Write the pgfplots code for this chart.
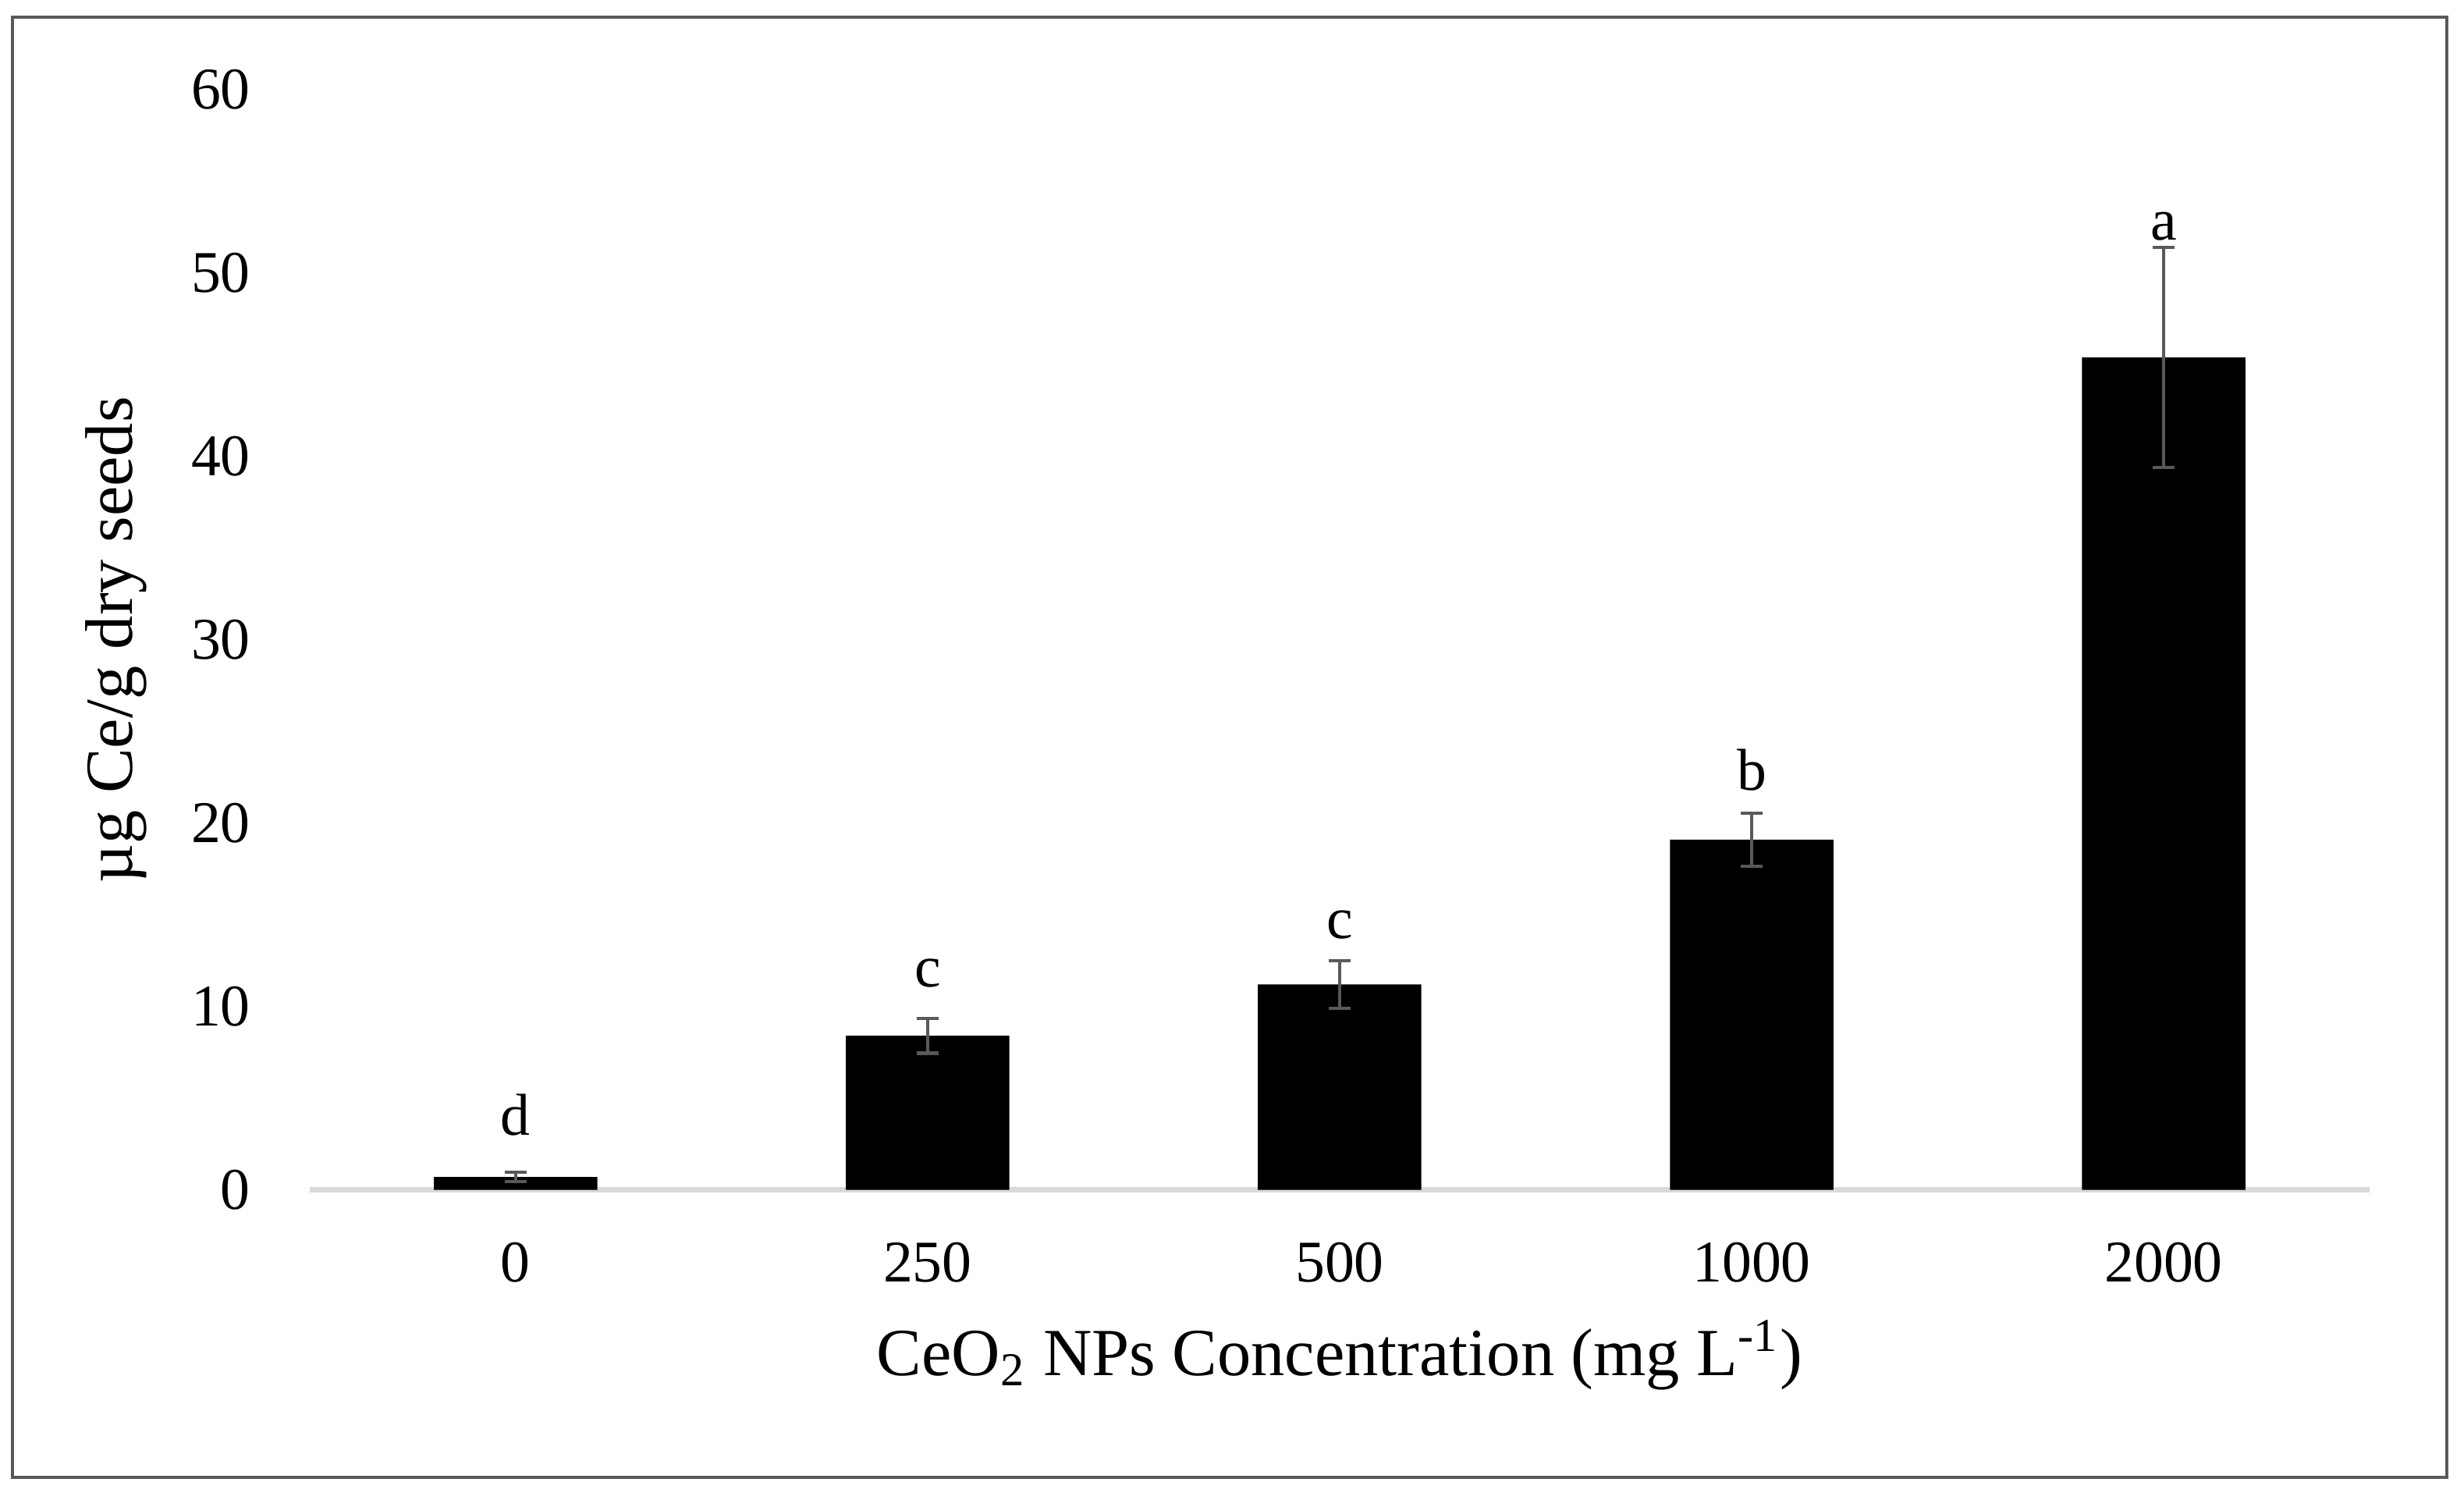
\documentclass[border=0pt]{standalone}
\usepackage{fontspec}
\setmainfont{Liberation Serif}
\usepackage{pgfplots}
\pgfplotsset{compat=1.18}
\definecolor{framegray}{HTML}{595959}
\definecolor{errgray}{HTML}{595959}
\definecolor{axisgray}{HTML}{D9D9D9}
\begin{document}
\begin{tikzpicture}
\path[use as bounding box] (0,0) rectangle (15.68,9.54);
\draw[color=framegray, line width=0.6pt] (0.08,0.14) rectangle (15.57,9.43);
\begin{axis}[
  at={(1.97cm,1.97cm)}, anchor=south west,
  scale only axis, width=13.11cm, height=7.00cm,
  xmin=-0.5, xmax=4.5, ymin=0, ymax=60,
  xtick={0,1,2,3,4}, xticklabels={0,250,500,1000,2000},
  ytick={0,10,20,30,40,50,60},
  axis x line*=bottom, axis y line*=left,
  x axis line style={color=axisgray, line width=1pt},
  y axis line style={draw=none},
  tick style={draw=none}, major tick length=0pt,
  /pgf/number format/assume math mode=true,
  font=\fontsize{10.7}{12.8}\selectfont,
  tick label style={font=\fontsize{10.7}{12.8}\selectfont, inner sep=0pt},
  yticklabel shift=0.37cm,
  xticklabel shift=0.33cm,
  xlabel={CeO\textsubscript{2} NPs Concentration (mg L\textsuperscript{-1})},
  ylabel={µg Ce/g dry seeds},
  label style={font=\fontsize{12.2}{14.6}\selectfont},
  xlabel style={at={(axis description cs:0.5,-0.1686)}, anchor=base, inner sep=0pt},
  ylabel style={at={(axis description cs:-0.0860,0.5)}, anchor=base, inner sep=0pt, rotate=0},
  clip=false,
]
\addplot[ybar, bar width=1.04cm, fill=black, draw=none,
  error bars/.cd, y dir=both, y explicit,
  error bar style={color=errgray, line width=0.6pt},
  error mark options={rotate=90, mark size=0.07cm, line width=0.6pt, color=errgray}]
  table[x=x, y=y, y error=err] {
x y err
0 0.7 0.25
1 8.4 0.95
2 11.2 1.3
3 19.1 1.45
4 45.4 6.0
};
\addplot[draw=none, mark=none, nodes near coords, point meta=explicit symbolic,
  every node near coord/.append style={anchor=base, inner sep=0pt, yshift=0pt, font=\fontsize{10.7}{12.8}\selectfont}]
  table[x=x, y=y, meta=lab] {
x y lab
0 3.0 d
1 11.05 c
2 13.7 c
3 21.8 b
4 51.8 a
};
\end{axis}
\end{tikzpicture}
\end{document}
